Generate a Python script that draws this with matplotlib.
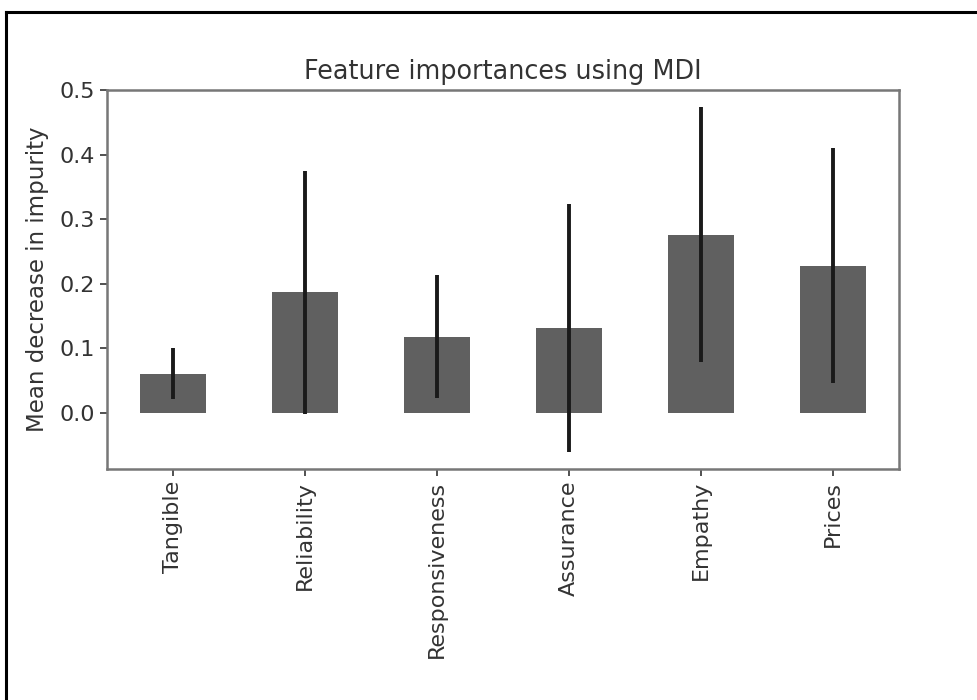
import matplotlib
matplotlib.use("Agg")
import matplotlib.pyplot as plt
import numpy as np
from matplotlib.lines import Line2D

features = ["Tangible", "Reliability", "Responsiveness", "Assurance", "Empathy", "Prices"]
importances = [0.061, 0.187, 0.118, 0.132, 0.276, 0.228]
std = [0.039, 0.188, 0.095, 0.192, 0.197, 0.182]

plt.rcParams['font.family'] = ['DejaVu Sans']
plt.rcParams['font.size'] = 16

fig = plt.figure(figsize=(9.78, 7.0), dpi=100)
ax = fig.add_axes([107/978, 1 - 469/700, (899 - 107)/978, (469 - 90)/700])

x = np.arange(len(features))
ax.bar(x, importances, width=0.5, color="#606060", yerr=std,
       error_kw=dict(ecolor="#1a1a1a", elinewidth=2.8, capsize=0))
ax.set_xlim(-0.5, len(features) - 0.5)
ax.set_xticks(x)
ax.set_xticklabels(features, rotation=90)
ax.set_yticks([0.0, 0.1, 0.2, 0.3, 0.4, 0.5])
ax.set_ylabel("Mean decrease in impurity", color="#333333", labelpad=8, fontsize=16.5)
ax.set_title("Feature importances using MDI", color="#333333", pad=8, fontsize=18.4)
ax.tick_params(colors="#333333", labelcolor="#333333", width=1.2, length=5)
for s in ax.spines.values():
    s.set_color("#777777")
    s.set_linewidth(1.8)

# outer figure frame (top and left edges)
fig.add_artist(Line2D([6/978, 1.0], [1 - 12/700, 1 - 12/700], color="black", lw=2.2,
                      transform=fig.transFigure))
fig.add_artist(Line2D([6/978, 6/978], [0.0, 1 - 12/700], color="black", lw=2.2,
                      transform=fig.transFigure))

fig.savefig("out.png", dpi=100)
